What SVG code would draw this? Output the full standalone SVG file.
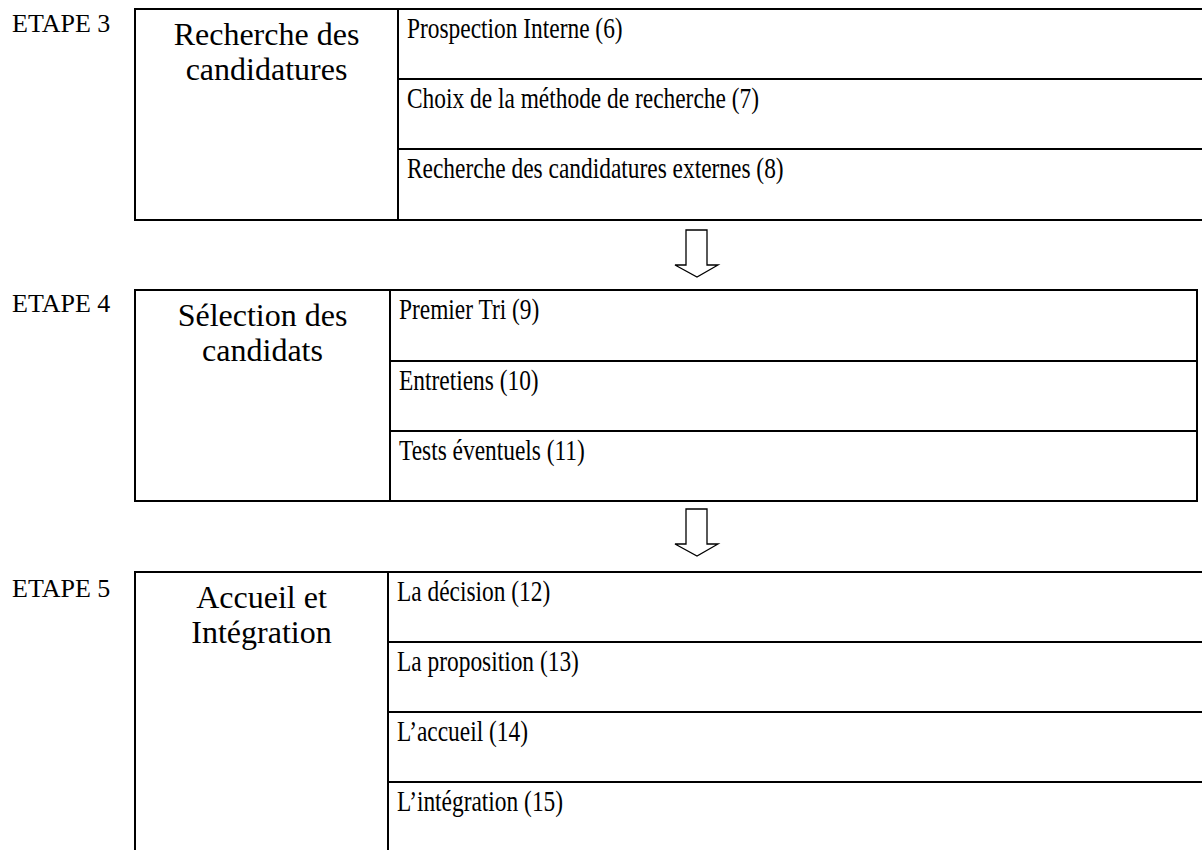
<svg xmlns="http://www.w3.org/2000/svg" width="1202" height="850" viewBox="0 0 1202 850">
<style>
.frame{fill:none;stroke:#000;stroke-width:2}
.rule{stroke:#000;stroke-width:2}
.etape{font-family:"Liberation Serif","Times New Roman",serif;font-size:26px;fill:#000}
.phase{font-family:"Liberation Serif","Times New Roman",serif;font-size:32px;fill:#000;text-anchor:middle}
.step{font-family:"Liberation Serif","Times New Roman",serif;font-size:30px;fill:#000}
.arrow{fill:#fff;stroke:#000;stroke-width:1.3;stroke-linejoin:miter}
</style>
<rect width="1202" height="850" fill="#fff"/>

<g id="etape3">
<text class="etape" x="12" y="32">ETAPE 3</text>
<path class="frame" d="M1203,9 H135 V220 H1203"/>
<line class="rule" x1="398" y1="9" x2="398" y2="220"/>
<line class="rule" x1="398" y1="79" x2="1203" y2="79"/>
<line class="rule" x1="398" y1="149" x2="1203" y2="149"/>
<text class="phase" x="266.5" y="45">Recherche des</text>
<text class="phase" x="266.5" y="80">candidatures</text>
<text class="step" transform="translate(407 38) scale(0.78 1)">Prospection Interne (6)</text>
<text class="step" transform="translate(407 108) scale(0.78 1)">Choix de la méthode de recherche (7)</text>
<text class="step" transform="translate(407 178) scale(0.78 1)">Recherche des candidatures externes (8)</text>
</g>

<g id="etape4">
<text class="etape" x="12" y="312">ETAPE 4</text>
<rect class="frame" x="135" y="290" width="1062" height="211"/>
<line class="rule" x1="390" y1="290" x2="390" y2="501"/>
<line class="rule" x1="390" y1="361" x2="1197" y2="361"/>
<line class="rule" x1="390" y1="431" x2="1197" y2="431"/>
<text class="phase" x="262.5" y="326">Sélection des</text>
<text class="phase" x="262.5" y="361">candidats</text>
<text class="step" transform="translate(399 319) scale(0.78 1)">Premier Tri (9)</text>
<text class="step" transform="translate(399 390) scale(0.78 1)">Entretiens (10)</text>
<text class="step" transform="translate(399 460) scale(0.78 1)">Tests éventuels (11)</text>
</g>

<g id="etape5">
<text class="etape" x="12" y="597">ETAPE 5</text>
<path class="frame" d="M135,851 V572 H1203"/>
<line class="rule" x1="388" y1="572" x2="388" y2="851"/>
<line class="rule" x1="388" y1="642" x2="1203" y2="642"/>
<line class="rule" x1="388" y1="712" x2="1203" y2="712"/>
<line class="rule" x1="388" y1="782" x2="1203" y2="782"/>
<text class="phase" x="261.5" y="608">Accueil et</text>
<text class="phase" x="261.5" y="643">Intégration</text>
<text class="step" transform="translate(397 601) scale(0.78 1)">La décision (12)</text>
<text class="step" transform="translate(397 671) scale(0.78 1)">La proposition (13)</text>
<text class="step" transform="translate(397 741) scale(0.78 1)">L’accueil (14)</text>
<text class="step" transform="translate(397 811) scale(0.78 1)">L’intégration (15)</text>
</g>

<g id="connectors">
<path class="arrow" d="M686,230 H707 V265 H718 L697,277 L675,265 H686 Z"/>
<path class="arrow" d="M686,509 H707 V544 H718 L697,556 L675,544 H686 Z"/>
</g>
</svg>
